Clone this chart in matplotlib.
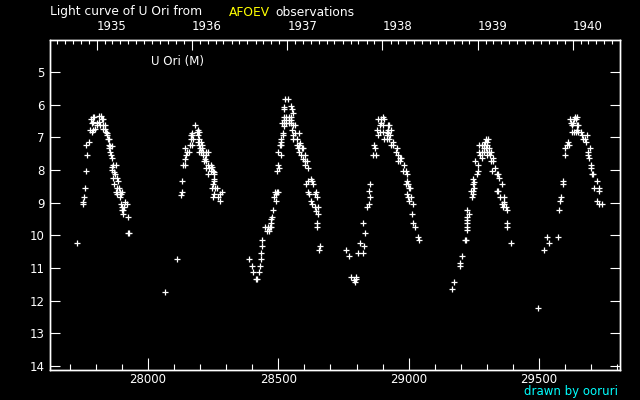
import datetime as dt
import matplotlib
matplotlib.use("Agg")
import matplotlib.pyplot as plt

# ---- data: (JD - 2400000, visual magnitude) ----
cycle_1935 = [(27729,10.24),(27752,8.97),(27752,9.04),(27756,8.84),(27760,8.56),(27763,8.04),(27767,7.55),
 (27763,7.24),(27775,7.15),(27778,6.78),(27784,6.85),(27788,6.78),(27780,6.45),(27788,6.37),(27794,6.37),
 (27790,6.52),(27784,6.55),(27813,6.35),(27818,6.35),(27813,6.52),(27822,6.45),(27829,6.45),(27806,6.55),
 (27803,6.62),(27816,6.62),(27826,6.62),(27835,6.62),(27797,6.75),(27826,6.75),(27835,6.75),(27839,6.83),
 (27842,6.88),(27844,6.93),(27845,7.06),(27850,7.06),(27849,7.23),(27854,7.27),(27863,7.25),(27852,7.34),
 (27854,7.44),(27858,7.54),(27861,7.62),(27867,7.85),(27876,7.85),(27861,7.92),(27861,8.00),(27871,8.05),
 (27873,8.12),(27864,8.25),(27880,8.25),(27886,8.34),(27871,8.44),(27880,8.56),(27889,8.56),(27876,8.66),
 (27893,8.66),(27899,8.66),(27880,8.74),(27896,8.74),(27893,8.84),(27912,8.97),(27896,9.04),(27918,9.04),
 (27902,9.12),(27909,9.12),(27902,9.22),(27905,9.22),(27905,9.35),(27922,9.45),(27925,9.94),(27928,9.94)]

cycle_1936 = [(28067,11.74),(28113,10.73),(28127,8.75),(28129,8.66),(28132,8.35),(28136,7.86),(28141,7.86),
 (28143,7.65),(28146,7.55),(28150,7.46),(28159,7.46),(28143,7.34),(28161,7.24),(28170,7.24),(28164,7.06),
 (28173,7.06),(28165,6.94),(28170,6.94),(28170,6.86),(28182,6.63),(28192,6.76),(28197,6.83),(28187,6.83),
 (28191,6.93),(28197,7.06),(28192,7.15),(28202,7.15),(28197,7.23),(28206,7.23),(28200,7.34),(28206,7.34),
 (28195,7.46),(28204,7.46),(28212,7.46),(28221,7.46),(28229,7.46),(28212,7.55),(28221,7.55),(28220,7.65),
 (28216,7.72),(28221,7.72),(28221,7.95),(28232,7.86),(28241,7.86),(28234,7.95),(28244,7.92),(28242,8.03),
 (28251,8.03),(28255,8.05),(28229,8.13),(28255,8.13),(28253,8.27),(28255,8.34),(28251,8.43),(28247,8.56),
 (28257,8.56),(28264,8.56),(28285,8.66),(28253,8.74),(28276,8.74),(28251,8.84),(28270,8.84),(28278,8.96)]

cycle_1937 = [(28389,10.73),(28398,10.94),(28404,11.13),(28413,11.35),(28417,11.35),(28425,11.13),(28429,10.94),
 (28432,10.73),(28435,10.55),(28439,10.33),(28439,10.15),(28455,9.86),(28464,9.86),(28449,9.75),(28459,9.75),
 (28468,9.75),(28473,9.75),(28471,9.61),(28472,9.51),(28475,9.45),(28481,9.23),(28485,8.84),(28491,8.74),
 (28487,8.66),(28496,8.66),(28500,8.66),(28491,8.96),(28494,8.03),(28500,7.86),(28503,7.95),(28498,7.46),
 (28512,7.55),(28507,7.23),(28512,7.23),(28509,7.15),(28510,7.06),(28517,6.93),(28517,6.86),(28513,6.55),
 (28522,6.55),(28531,6.55),(28540,6.55),(28549,6.55),(28522,6.37),(28531,6.37),(28540,6.37),(28549,6.37),
 (28522,6.47),(28540,6.47),(28548,6.47),(28522,6.65),(28564,6.62),(28558,6.62),(28551,6.76),(28564,6.86),
 (28581,6.86),(28558,6.93),(28558,7.06),(28573,7.06),(28522,6.08),(28522,6.14),(28527,5.84),(28539,5.84),
 (28550,6.04),(28554,6.14),(28558,6.24),(28583,7.16),(28571,7.24),(28581,7.24),(28574,7.34),(28590,7.34),
 (28596,7.34),(28581,7.46),(28586,7.55),(28603,7.55),(28594,7.65),(28603,7.72),(28609,7.72),(28603,7.86),
 (28612,7.95),(28624,8.27),(28615,8.34),(28628,8.34),(28605,8.44),(28634,8.44),(28615,8.66),(28643,8.66),
 (28619,8.74),(28640,8.74),(28647,8.84),(28624,8.96),(28631,9.04),(28641,9.12),(28651,9.14),(28646,9.24),
 (28654,9.36),(28650,9.63),(28650,9.75),(28660,10.33),(28657,10.46)]

cycle_1938 = [(28761,10.46),(28770,10.64),(28780,11.26),(28789,11.37),(28799,11.26),(28799,11.35),(28793,11.44),
 (28807,10.55),(28826,10.55),(28815,10.24),(28830,10.34),(28834,9.94),(28826,9.63),(28842,9.14),(28849,9.04),
 (28853,8.84),(28849,8.65),(28853,8.44),(28865,7.55),(28874,7.55),(28869,7.24),(28872,7.34),(28880,6.76),
 (28884,6.93),(28890,6.83),(28903,6.83),(28916,6.83),(28884,6.45),(28893,6.45),(28903,6.37),(28907,6.45),
 (28894,6.55),(28900,6.62),(28890,6.62),(28907,7.06),(28922,6.62),(28926,6.62),(28922,6.76),(28932,6.76),
 (28922,6.88),(28929,6.93),(28918,6.93),(28926,7.06),(28918,7.06),(28941,7.15),(28931,7.24),(28939,7.24),
 (28957,7.34),(28950,7.46),(28961,7.55),(28967,7.64),(28971,7.64),(28961,7.71),(28967,7.71),(28984,7.86),
 (28980,8.03),(28990,8.03),(28993,8.13),(28993,8.34),(28990,8.44),(28996,8.44),(29005,8.56),(29002,8.56),
 (28995,8.74),(28999,8.84),(29008,8.84),(29003,8.96),(29016,9.05),(29014,9.36),(29018,9.63),(29026,9.75),
 (29037,10.06),(29041,10.15)]

cycle_1939 = [(29168,11.65),(29175,11.44),(29199,10.84),(29199,10.94),(29206,10.64),(29215,10.15),(29219,10.15),
 (29223,9.85),(29225,9.74),(29225,9.63),(29225,9.53),(29223,9.45),(29230,9.36),(29225,9.23),(29242,8.84),
 (29248,8.74),(29246,8.65),(29252,8.56),(29239,8.65),(29248,8.44),(29248,8.27),(29252,8.36),(29264,8.13),
 (29268,8.03),(29265,7.86),(29255,7.73),(29274,7.55),(29282,7.64),(29271,7.46),(29280,7.46),(29289,7.46),
 (29300,7.46),(29309,7.46),(29316,7.46),(29271,7.24),(29280,7.24),(29289,7.24),(29300,7.24),(29293,7.15),
 (29302,7.15),(29297,7.06),(29305,7.06),(29291,7.34),(29297,7.34),(29309,7.34),(29302,7.55),(29312,7.55),
 (29316,7.72),(29325,7.72),(29323,7.64),(29332,7.95),(29321,8.03),(29338,8.13),(29344,8.13),(29348,8.25),
 (29357,8.44),(29338,8.65),(29343,8.65),(29349,8.84),(29367,8.84),(29366,8.97),(29367,9.04),(29357,9.05),
 (29364,9.14),(29374,9.14),(29379,9.23),(29379,9.63),(29379,9.75),(29394,10.24)]

cycle_1940 = [(29498,12.23),(29521,10.46),(29532,10.06),(29540,10.24),(29575,10.06),(29578,9.23),(29582,8.96),
 (29586,8.84),(29594,8.35),(29594,8.44),(29601,7.55),(29601,7.34),(29609,7.24),(29617,7.24),(29613,7.15),
 (29619,6.45),(29622,6.55),(29630,6.55),(29636,6.45),(29639,6.37),(29645,6.37),(29642,6.45),(29627,6.62),
 (29647,6.62),(29651,6.62),(29626,6.85),(29635,6.85),(29642,6.85),(29651,6.85),(29660,6.85),(29647,6.76),
 (29667,6.93),(29686,6.93),(29668,7.06),(29677,7.06),(29679,7.15),(29697,7.34),(29687,7.46),(29687,7.55),
 (29693,7.64),(29699,7.86),(29701,7.95),(29702,8.13),(29709,8.13),(29724,8.35),(29713,8.56),(29732,8.56),
 (29731,8.65),(29724,8.96),(29729,9.05),(29743,9.05)]

cycles = [cycle_1935, cycle_1936, cycle_1937, cycle_1938, cycle_1939, cycle_1940]

bottom_ticks = [28000, 28500, 29000, 29500]
mag_ticks = [5, 6, 7, 8, 9, 10, 11, 12, 13, 14]
years = [1935, 1936, 1937, 1938, 1939, 1940]
star_label = "U Ori (M)"

def jd_short(d):
    # JD - 2400000 of a date at 0h UT
    return (d - dt.date(1858, 11, 17)).days + 0.5

FG = "white"
FS = 8.5
fig = plt.figure(figsize=(6.4, 4.0), dpi=100, facecolor="black")
ax = fig.add_axes([50/640, 30/400, 570/640, 330/400])
ax.set_facecolor("black")

for cyc in cycles:
    xs = [p[0] for p in cyc]
    ys = [p[1] for p in cyc]
    ax.plot(xs, ys, linestyle="none", marker="+", ms=3.8, mew=0.9, color=FG)

ax.set_xlim(27624, 29811)
ax.set_ylim(14.12, 4.02)
ax.set_xticks(bottom_ticks)
ax.set_xticklabels([str(t) for t in bottom_ticks])
ax.set_xticks(range(27700, 29811, 100), minor=True)
ax.set_yticks(mag_ticks)
ax.set_yticklabels([str(t) for t in mag_ticks])
ax.tick_params(axis="x", which="major", direction="in", length=8.6, width=0.8,
               colors=FG, labelsize=FS, pad=2, top=False)
ax.tick_params(axis="x", which="minor", direction="in", length=4.3, width=0.8,
               colors=FG, top=False)
ax.tick_params(axis="y", which="major", direction="in", length=7.2, width=0.8,
               colors=FG, labelsize=FS, pad=4, left=True, right=True)
for s in ax.spines.values():
    s.set_color(FG)
    s.set_linewidth(1.0)

# top axis: calendar years, monthly minor ticks
ax2 = ax.twiny()
ax2.set_xlim(ax.get_xlim())
ax2.set_xticks([jd_short(dt.date(y, 1, 1)) for y in years])
ax2.set_xticklabels([str(y) for y in years], ha="left")
months = []
for y in range(1934, 1942):
    for m in range(1, 13):
        v = jd_short(dt.date(y, m, 1))
        if 27624 < v < 29811 and m != 1:
            months.append(v)
ax2.set_xticks(months, minor=True)
ax2.tick_params(axis="x", which="major", direction="in", length=7.2, width=0.8,
                colors=FG, labelsize=FS, pad=5)
ax2.tick_params(axis="x", which="minor", direction="in", length=2.6, width=0.8, colors=FG)
for s in ax2.spines.values():
    s.set_color(FG)
    s.set_linewidth(1.0)

# titles and labels
TS = 8.8
fig.text(50/640, 1 - 12/400, "Light curve of U Ori from", color=FG, fontsize=TS,
         ha="left", va="center")
fig.text(229/640, 1 - 12/400, "AFOEV", color="#ffff00", fontsize=TS, ha="left", va="center")
fig.text(275/640, 1 - 12/400, "observations", color=FG, fontsize=TS, ha="left", va="center")
fig.text(151/640, 1 - 61/400, star_label, color=FG, fontsize=FS, ha="left", va="center")
fig.text(618/640, 1 - 391/400, "drawn by ooruri", color="#00ffff", fontsize=FS,
         ha="right", va="center")

fig.savefig("out.png", dpi=100, facecolor="black")
